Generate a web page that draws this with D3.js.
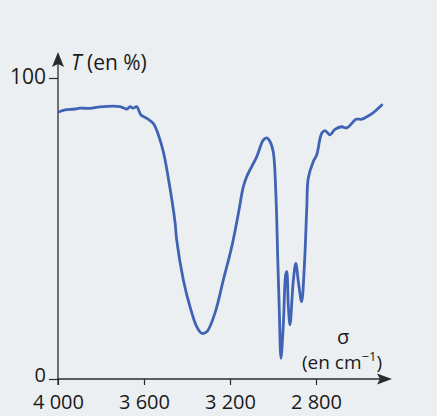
<!DOCTYPE html>
<html><head><meta charset="utf-8">
<script src="https://cdn.jsdelivr.net/npm/d3@7"></script>
<style>
html,body{margin:0;padding:0;background:#eceff2;}
svg{display:block;}
text{font-family:"Open Sans","Noto Sans",sans-serif;fill:#1a1a1a;}
</style></head>
<body>
<svg id="c" width="437" height="416"></svg>
<script>
// Wavenumber (cm-1) and transmittance (%)
const wavenumber = [3995,3967,3921,3898,3851,3805,3712,3680,3665,3651,3634,3614,3587,3557,3533,3510,3487,3456,3448,3417,3386,3355,3332,3308,3270,3231,3192,3161,3138,3122,3076,3045,3029,3014,2999,2987,2978,2971,2963,2952,2941,2936,2929,2921,2906,2894,2882,2867,2854,2843,2836,2813,2797,2781,2773,2758,2735,2712,2680,2657,2634,2614,2587,2564,2533,2494];
const transmittance = [88.8,89.4,89.7,90.0,89.9,90.4,90.5,89.7,90.5,90.0,90.5,87.7,86.6,84.9,81.1,75.5,66.8,52.3,46.2,32.9,24.0,17.4,15.2,15.7,21.9,32.9,43.9,55.0,63.9,67.3,73.8,79.4,80.1,78.9,75.5,62.2,40.2,23.5,6.9,18.0,34.6,35.7,24.5,18.0,32.3,38.4,32.3,25.7,37.8,56.7,66.7,72.2,74.4,80.0,81.7,82.5,81.1,82.9,83.8,83.4,84.9,86.3,86.3,87.1,88.5,91.0];
const xTickValues = [4000,3600,3200,2800];
const xTickLabels = ["4 000","3 600","3 200","2 800"];
const yTickValues = [0,100];
const yTickLabels = ["0","100"];

const svg = d3.select("#c");
const x = d3.scaleLinear().domain([4000,2800]).range([58,316]);
const y = d3.scaleLinear().domain([0,100]).range([379,78]);
const axisColor = "#2b2b2b";

// x axis ticks
const gx = svg.append("g").attr("transform",`translate(0,${y(0)})`)
  .call(d3.axisBottom(x).tickValues(xTickValues).tickFormat((d,i)=>xTickLabels[i]).tickSize(6));
gx.select(".domain").remove();
gx.selectAll(".tick line").attr("stroke",axisColor).attr("stroke-width",1.2);
gx.selectAll(".tick text").attr("y",30).attr("dy","0").style("font-size","20px")
  .attr("fill","#1a1a1a").attr("font-family",null);

// y axis ticks
const gy = svg.append("g").attr("transform",`translate(${x(4000)},0)`)
  .call(d3.axisLeft(y).tickValues(yTickValues).tickFormat((d,i)=>yTickLabels[i]).tickSize(9));
gy.select(".domain").remove();
gy.selectAll(".tick line").attr("stroke",axisColor).attr("stroke-width",1.2);
gy.selectAll(".tick text").attr("x",-12).attr("dy",(d)=>d===0?"0.12em":"0.28em")
  .style("font-size",(d)=>d===0?"20px":"21px").attr("fill","#1a1a1a").attr("font-family",null);

// axis lines with arrows
svg.append("line").attr("x1",x(4000)-1).attr("x2",380).attr("y1",y(0)).attr("y2",y(0))
  .attr("stroke",axisColor).attr("stroke-width",1.3);
svg.append("path").attr("d",`M392,${y(0)} L377,${y(0)-5.5} L380,${y(0)} L377,${y(0)+5.5} Z`).attr("fill",axisColor);
svg.append("line").attr("x1",x(4000)).attr("x2",x(4000)).attr("y1",y(0)+6).attr("y2",64)
  .attr("stroke",axisColor).attr("stroke-width",1.3);
svg.append("path").attr("d",`M${x(4000)},52 L${x(4000)-6},67 L${x(4000)},64 L${x(4000)+6},67 Z`).attr("fill",axisColor);

// axis titles
const tt = svg.append("text").attr("x",71).attr("y",70).style("font-size","21px");
tt.append("tspan").attr("font-style","italic").text("T");
tt.append("tspan").text(" (en %)");
svg.append("text").attr("x",343).attr("y",344).attr("text-anchor","middle").style("font-size","20px").text("σ");
const xt = svg.append("text").attr("x",342).attr("y",369).attr("text-anchor","middle").style("font-size","19px");
xt.append("tspan").text("(en cm");
xt.append("tspan").text("−1").style("font-size","13px").attr("dy","-8");
xt.append("tspan").text(")").attr("dy","8");

// spectrum
const data = wavenumber.map((w,i)=>[w,transmittance[i]]);
const line = d3.line().x(d=>x(d[0])).y(d=>y(d[1])).curve(d3.curveCatmullRom.alpha(0.5));
svg.append("path").datum(data).attr("d",line).attr("fill","none")
  .attr("stroke","#4064b4").attr("stroke-width",2.8).attr("stroke-linejoin","round").attr("stroke-linecap","round");
</script>
</body></html>
